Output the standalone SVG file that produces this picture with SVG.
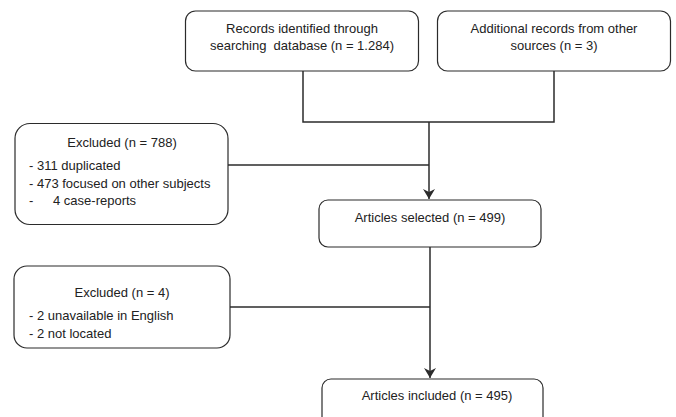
<svg xmlns="http://www.w3.org/2000/svg" width="676" height="417" viewBox="0 0 676 417">
<style>
.box{fill:#fff;stroke:#2b2b2b;stroke-width:1.2}
.t{font-family:"Liberation Sans",Arial,sans-serif;font-size:13px;fill:#222;white-space:pre}
.c{text-anchor:middle}
.ln{fill:none;stroke:#2b2b2b;stroke-width:1.5}
</style>
<defs>
<marker id="ah" viewBox="0 0 10 12" refX="10" refY="6" markerWidth="10" markerHeight="12" markerUnits="userSpaceOnUse" orient="auto">
<path d="M0,0 L10,6 L0,12 L3,6 Z" fill="#2b2b2b"/>
</marker>
</defs>
<rect width="676" height="417" fill="#fff"/>
<g id="connectors">
<path class="ln" d="M303,71 V122 H554 V71"/>
<path class="ln" d="M429,122 V199" marker-end="url(#ah)"/>
<path class="ln" d="M228,165 H429"/>
<path class="ln" d="M430,247 V378" marker-end="url(#ah)"/>
<path class="ln" d="M230,307 H430"/>
</g>
<g id="records">
<rect class="box" x="185.5" y="11" width="233" height="60" rx="10"/>
<text class="t c" x="302" y="33" xml:space="preserve">Records identified through</text>
<text class="t c" x="302" y="50" xml:space="preserve">searching  database (n = 1.284)</text>
</g>
<g id="additional">
<rect class="box" x="437.5" y="11" width="233" height="60" rx="10"/>
<text class="t c" x="554" y="33">Additional records from other</text>
<text class="t c" x="554" y="50">sources (n = 3)</text>
</g>
<g id="excluded1">
<rect class="box" x="15" y="123.5" width="213" height="101" rx="15"/>
<text class="t c" x="122" y="147">Excluded (n = 788)</text>
<text class="t" x="29" y="170">- 311 duplicated</text>
<text class="t" x="29" y="188">- 473 focused on other subjects</text>
<text class="t" x="29" y="205">-</text>
<text class="t" x="53" y="205">4 case-reports</text>
</g>
<g id="selected">
<rect class="box" x="319" y="200" width="222" height="47" rx="9"/>
<text class="t c" x="430" y="222">Articles selected (n = 499)</text>
</g>
<g id="excluded2">
<rect class="box" x="14" y="266" width="216" height="82" rx="13"/>
<text class="t c" x="122" y="297">Excluded (n = 4)</text>
<text class="t" x="29" y="320">- 2 unavailable in English</text>
<text class="t" x="29" y="338">- 2 not located</text>
</g>
<g id="included">
<rect class="box" x="322" y="379" width="221" height="60" rx="9"/>
<text class="t c" x="437" y="400">Articles included (n = 495)</text>
</g>
</svg>
